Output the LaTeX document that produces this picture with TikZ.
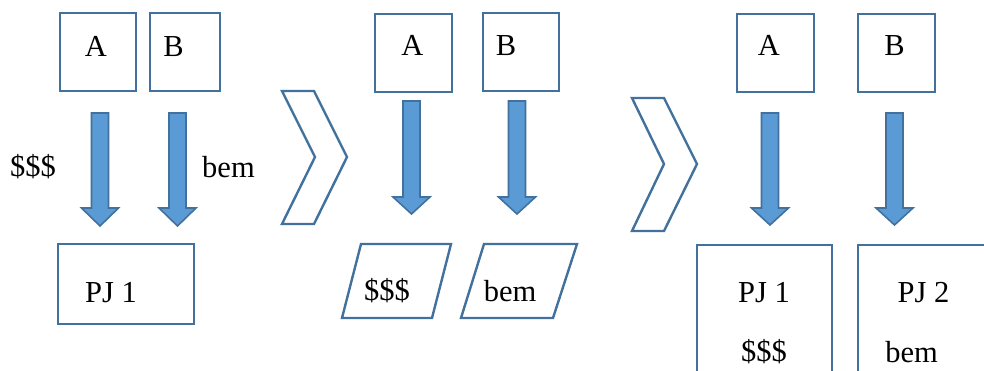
\documentclass[tikz,border=0pt]{standalone}
\usepackage{fontspec}
\setmainfont{Liberation Serif}
\definecolor{edgeblue}{HTML}{41719C}
\definecolor{fillblue}{HTML}{5B9BD5}
\tikzset{
  box/.style={draw=edgeblue, line width=2.5pt, rectangle, inner sep=0pt},
  lbl/.style={font=\fontsize{30.5}{36}\selectfont, inner sep=0pt, anchor=base},
  chevron/.style={draw=edgeblue, line width=2.4pt, line join=miter},
  slanted/.style={draw=edgeblue, line width=2.4pt, line join=miter},
  flow/.style={draw=edgeblue, fill=fillblue, line width=1.6pt, line join=miter}
}
% block arrow pointing down: centre x, top y, head start y, tip y
\newcommand\blockdown[4]{%
  \draw[flow] ({#1-8.5},{#2}) -- ({#1+8.5},{#2}) -- ({#1+8.5},{#3})
    -- ({#1+18.5},{#3}) -- ({#1},{#4}) -- ({#1-18.5},{#3})
    -- ({#1-8.5},{#3}) -- cycle;}
\begin{document}
\begin{tikzpicture}[x=1pt, y=-1pt]
\clip (0,0) rectangle (984,371);
\fill[white] (0,0) rectangle (984,371);

% ---- stage 1 ----
\node[box, minimum width=76pt, minimum height=78pt] (a1) at (98,52) {};
\node[box, minimum width=70pt, minimum height=78pt] (b1) at (185,52) {};
\node[lbl] (ta1) at (96,57) {A};
\node[lbl] (tb1) at (173.5,57) {B};
\blockdown{100}{113}{208}{226}
\blockdown{177.5}{113}{208}{226}
\node[lbl] (m1) at (33,177) {\$\$\$};
\node[lbl] (g1) at (228.5,178) {bem};
\node[box, minimum width=136pt, minimum height=80pt] (pj1) at (126,284) {};
\node[lbl] (tpj1) at (111,302) {PJ 1};

% ---- chevron 1 ----
\draw[chevron] (282,91) -- (314,91) -- (347,157) -- (314,224) -- (282,224) -- (315,157) -- cycle;

% ---- stage 2 ----
\node[box, minimum width=77pt, minimum height=78pt] (a2) at (413.5,53) {};
\node[box, minimum width=76pt, minimum height=78pt] (b2) at (521,52) {};
\node[lbl] (ta2) at (412.5,56) {A};
\node[lbl] (tb2) at (506,56) {B};
\blockdown{411.5}{101}{197}{214}
\blockdown{517}{101}{197}{214}
\draw[slanted] (361,244) -- (451,244) -- (432,318) -- (342,318) -- cycle;
\draw[slanted] (484,244) -- (577,244) -- (553,318) -- (461,318) -- cycle;
\node[lbl] (m2) at (387,300) {\$\$\$};
\node[lbl] (g2) at (510,301) {bem};

% ---- chevron 2 ----
\draw[chevron] (632,98) -- (664,98) -- (697,164) -- (664,231) -- (632,231) -- (664,164) -- cycle;

% ---- stage 3 ----
\node[box, minimum width=77pt, minimum height=78pt] (a3) at (775.5,53) {};
\node[box, minimum width=77pt, minimum height=78pt] (b3) at (896.5,53) {};
\node[lbl] (ta3) at (769,56) {A};
\node[lbl] (tb3) at (894.5,56) {B};
\blockdown{770}{113}{208}{225}
\blockdown{894.5}{113}{208}{225}
\node[box, minimum width=135pt, minimum height=165pt] (pj3a) at (764.5,327.5) {};
\node[box, minimum width=152pt, minimum height=165pt] (pj3b) at (934,327.5) {};
\node[lbl] (tpj3a) at (764,302) {PJ 1};
\node[lbl] (m3) at (764,361) {\$\$\$};
\node[lbl] (tpj3b) at (923.5,302) {PJ 2};
\node[lbl] (g3) at (911.5,362) {bem};
\end{tikzpicture}
\end{document}
